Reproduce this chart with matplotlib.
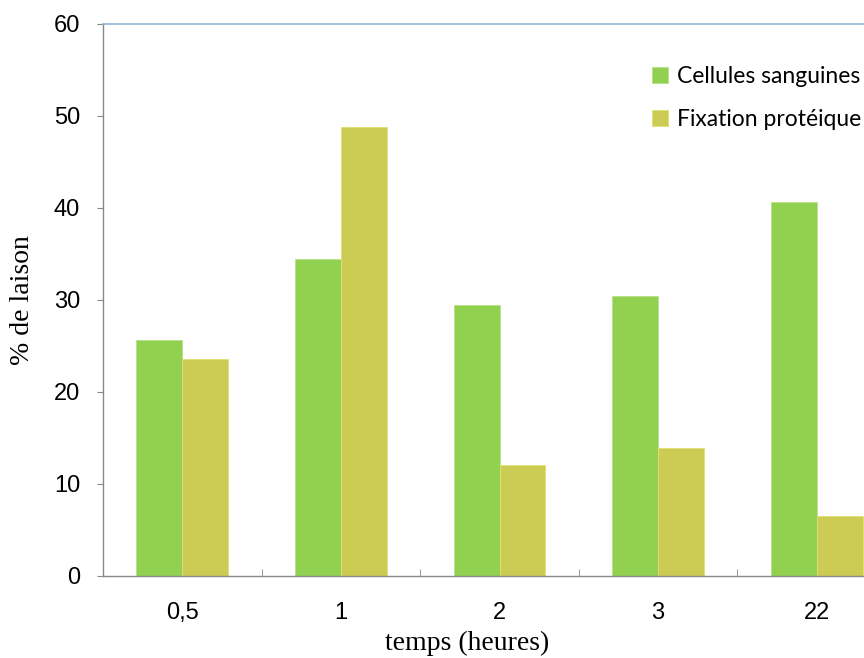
import numpy as np
from matplotlib import pyplot as plt
from matplotlib.ticker import FixedLocator
from matplotlib.transforms import ScaledTranslation

# data
temps = ['0,5', '1', '2', '3', '22']
cellules = [25.6, 34.5, 29.5, 30.4, 40.6]
fixation = [23.6, 48.8, 12.1, 13.9, 6.5]
series_names = ['Cellules sanguines', 'Fixation protéique']

green = '#92D050'
yellow = '#CCCC55'

W, H = 864, 658
fig = plt.figure(figsize=(W / 100, H / 100), dpi=100)
# axes runs past the right edge, like the cropped original
ax = fig.add_axes([103 / W, (H - 576) / H, 793 / W, 552 / H])

x = np.arange(len(temps))
bw = 0.29
b1 = ax.bar(x - bw / 2, cellules, bw, color=green, edgecolor='#B5E28A', linewidth=0.6)
b2 = ax.bar(x + bw / 2, fixation, bw, color=yellow, edgecolor='#E0E070', linewidth=0.6)

ax.set_xlim(-0.5, len(temps) - 0.5)
ax.set_ylim(0, 60)
ax.set_yticks(range(0, 61, 10))
ax.set_xticks(x)
ax.set_xticklabels([])
ax.xaxis.set_minor_locator(FixedLocator(x[:-1] + 0.5))

ax.tick_params(axis='x', which='major', length=0)
ax.tick_params(axis='x', which='minor', direction='in', length=5, color='#888888')
ax.tick_params(axis='y', direction='out', length=4.5, color='#888888', pad=12)

for lab in ax.get_yticklabels():
    lab.set_fontfamily('Liberation Sans')
    lab.set_fontsize(17)

# category labels below the axis
off = ScaledTranslation(0, -37 / 100, fig.dpi_scale_trans)
for xi, t in zip(x, temps):
    ax.text(xi, 0, t, transform=ax.get_xaxis_transform() + off,
            ha='center', va='center', family='Liberation Sans', size=17)

for s in ['left', 'bottom']:
    ax.spines[s].set_color('#888888')
    ax.spines[s].set_linewidth(1.0)
ax.spines['top'].set_color('#95B3D7')
ax.spines['top'].set_linewidth(1.2)
ax.spines['right'].set_visible(False)

ax.set_ylabel('% de laison', family='Liberation Serif', size=20)
ax.yaxis.set_label_coords(-68 / 793, 0.5)
fig.text(467 / W, 1 - 650 / H, 'temps (heures)', family='Liberation Serif',
         size=20, ha='center', va='baseline')

leg = fig.legend([b1, b2], series_names, loc='upper left',
                 bbox_to_anchor=(652 / W, 1 - 66 / H), frameon=False,
                 prop=dict(family='Lato', size=16.5), handlelength=0.7,
                 handleheight=0.7, handletextpad=0.4, labelspacing=0.95,
                 borderpad=0, borderaxespad=0)

fig.savefig('out.png', dpi=100)
